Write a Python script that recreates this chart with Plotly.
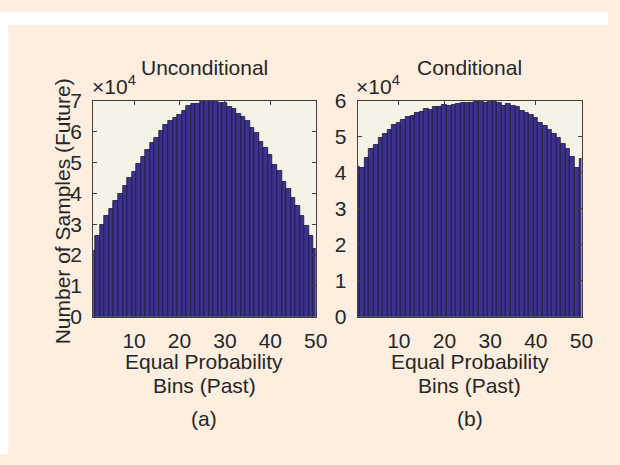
import plotly.graph_objects as go

bins = list(range(1, 51))
unconditional = [2.13, 2.62, 2.97, 3.26, 3.51, 3.75, 4.00, 4.23, 4.52, 4.71,
                 4.95, 5.19, 5.41, 5.64, 5.81, 6.02, 6.22, 6.36, 6.46, 6.56,
                 6.69, 6.85, 6.90, 6.91, 6.99, 6.99, 7.00, 7.00, 6.94, 6.94,
                 6.80, 6.75, 6.57, 6.47, 6.35, 6.14, 5.96, 5.68, 5.49, 5.24,
                 4.93, 4.72, 4.39, 4.16, 3.86, 3.59, 3.28, 2.95, 2.62, 2.20]
conditional = [4.18, 4.13, 4.43, 4.68, 4.79, 4.97, 5.08, 5.20, 5.34, 5.40,
               5.47, 5.55, 5.58, 5.66, 5.69, 5.77, 5.74, 5.82, 5.84, 5.89,
               5.87, 5.89, 5.93, 5.95, 5.95, 5.95, 5.98, 5.98, 5.95, 5.98,
               5.98, 5.94, 5.87, 5.92, 5.86, 5.82, 5.73, 5.67, 5.61, 5.53,
               5.40, 5.30, 5.20, 5.08, 4.97, 4.80, 4.68, 4.45, 4.15, 4.38]
scale = 1e4
x_ticks = [10, 20, 30, 40, 50]

W, H = 620, 465
FONT = "Liberation Sans, Arial, Helvetica, sans-serif"
TXT = "#262626"
BAR = "#3a3190"
EDGE = "#1c1a33"
PLOTBG = "#f5f3e6"
PAPER = "#fdeee0"
FS = 21

fig = go.Figure()
fig.add_trace(go.Bar(x=bins, y=[v * scale for v in unconditional], width=1,
                     marker=dict(color=BAR, line=dict(color=EDGE, width=0.8)),
                     xaxis="x", yaxis="y", showlegend=False))
fig.add_trace(go.Bar(x=bins, y=[v * scale for v in conditional], width=1,
                     marker=dict(color=BAR, line=dict(color=EDGE, width=0.8)),
                     xaxis="x2", yaxis="y2", showlegend=False))

def px_x(p):
    return p / W

def px_y(p):
    return 1 - p / H

dom_y = [px_y(320.7), px_y(93.5)]
ax_common = dict(ticks="inside", ticklen=4, tickcolor="#404040", showline=True,
                 linecolor="#404040", linewidth=1, mirror="ticks", showgrid=False,
                 zeroline=False, tickfont=dict(family=FONT, size=FS, color=TXT))

fig.update_layout(
    width=W, height=H,
    margin=dict(l=0, r=0, t=0, b=0),
    paper_bgcolor=PAPER, plot_bgcolor=PLOTBG,
    bargap=0,
    xaxis=dict(domain=[px_x(95), px_x(322)], range=[1, 50], tickvals=x_ticks,
               anchor="y", ticklabelstandoff=5, **ax_common),
    yaxis=dict(domain=dom_y, range=[0, 7e4], tickvals=[i * scale for i in range(8)],
               ticktext=[str(i) for i in range(8)], anchor="x", ticklabelstandoff=6,
               **ax_common),
    xaxis2=dict(domain=[px_x(364.8), px_x(593)], range=[1, 50], tickvals=x_ticks,
                anchor="y2", ticklabelstandoff=5, **ax_common),
    yaxis2=dict(domain=dom_y, range=[0, 6e4], tickvals=[i * scale for i in range(7)],
                ticktext=[str(i) for i in range(7)], anchor="x2", ticklabelstandoff=6,
                **ax_common),
    shapes=[
        dict(type="rect", xref="paper", yref="paper", x0=0, x1=px_x(8.5), y0=0, y1=1,
             fillcolor="white", line=dict(width=0), layer="below"),
        dict(type="rect", xref="paper", yref="paper", x0=0, x1=1, y0=px_y(13.5), y1=1,
             fillcolor="white", line=dict(width=0), layer="below"),
    ],
)

def ann(text, x, y, size=FS, angle=0, xanchor="center", yanchor="middle"):
    fig.add_annotation(text=text, x=px_x(x), y=px_y(y), xref="paper", yref="paper",
                       showarrow=False, textangle=angle, xanchor=xanchor, yanchor=yanchor,
                       font=dict(family=FONT, size=size, color=TXT))

ann("Unconditional", 208.5, 58)
ann("Conditional", 479, 58)
ann("×10<sup>4</sup>", 92, 93, xanchor="left", yanchor="bottom")
ann("×10<sup>4</sup>", 361, 93, xanchor="left", yanchor="bottom")
ann("Number of Samples (Future)", 64, 210, angle=-90)
ann("Equal Probability", 208.5, 368)
ann("Bins (Past)", 208.5, 393)
ann("Equal Probability", 479, 368)
ann("Bins (Past)", 479, 393)
ann("(a)", 208.5, 428)
ann("(b)", 479, 428)

fig.write_html("out.html")
